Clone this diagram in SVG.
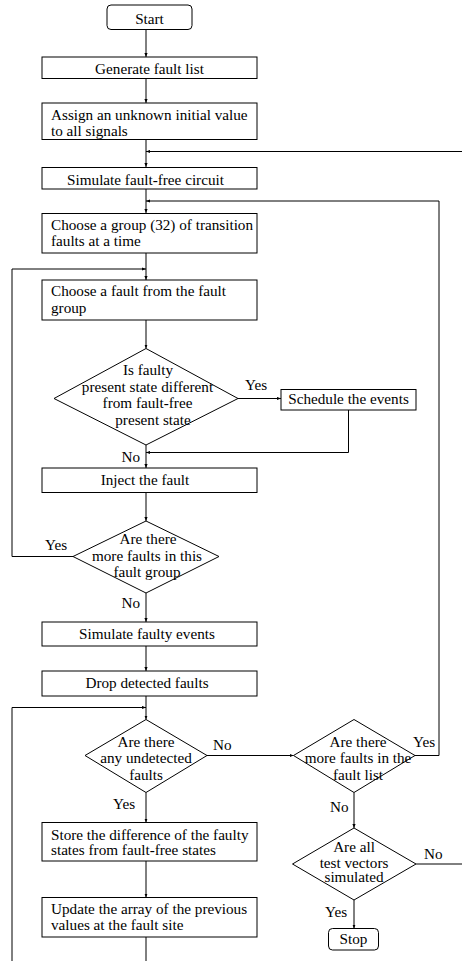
<svg xmlns="http://www.w3.org/2000/svg" width="462" height="961" viewBox="0 0 462 961">
  <style>
    .box { fill: #fff; stroke: #000; stroke-width: 1; }
    .edge { fill: none; stroke: #000; stroke-width: 1; }
    text { font-family: "Liberation Serif", "Times New Roman", serif; font-size: 15.2px; fill: #000; }
    .c { text-anchor: middle; }
  </style>
  <defs>
    <marker id="ah" markerWidth="4" markerHeight="4" refX="4" refY="2" orient="auto" markerUnits="userSpaceOnUse">
      <path d="M0,0.4 L4,2 L0,3.6 z" fill="#000"/>
    </marker>
  </defs>

  <!-- connectors -->
  <g id="connectors">
    <line class="edge" x1="146" y1="29" x2="146" y2="57" marker-end="url(#ah)"/>
    <line class="edge" x1="146" y1="78" x2="146" y2="103" marker-end="url(#ah)"/>
    <line class="edge" x1="146" y1="139" x2="146" y2="167" marker-end="url(#ah)"/>
    <line class="edge" x1="462" y1="151.5" x2="146" y2="151.5" marker-end="url(#ah)"/>
    <line class="edge" x1="146" y1="189" x2="146" y2="213" marker-end="url(#ah)"/>
    <polyline class="edge" points="415,755.5 439,755.5 439,201 146,201" marker-end="url(#ah)"/>
    <line class="edge" x1="146" y1="253" x2="146" y2="280" marker-end="url(#ah)"/>
    <polyline class="edge" points="73,556.5 12,556.5 12,269 146,269" marker-end="url(#ah)"/>
    <line class="edge" x1="146" y1="320" x2="146" y2="348.5" marker-end="url(#ah)"/>
    <line class="edge" x1="238" y1="398.5" x2="281" y2="398.5" marker-end="url(#ah)"/>
    <polyline class="edge" points="348.5,410 348.5,452.5 146,452.5" marker-end="url(#ah)"/>
    <line class="edge" x1="146" y1="445" x2="146" y2="468" marker-end="url(#ah)"/>
    <line class="edge" x1="146" y1="492" x2="146" y2="521" marker-end="url(#ah)"/>
    <line class="edge" x1="146" y1="593" x2="146" y2="622" marker-end="url(#ah)"/>
    <line class="edge" x1="146" y1="646" x2="146" y2="671" marker-end="url(#ah)"/>
    <line class="edge" x1="146" y1="696" x2="146" y2="719.5" marker-end="url(#ah)"/>
    <polyline class="edge" points="12,961 12,707.5 146,707.5" marker-end="url(#ah)"/>
    <line class="edge" x1="207" y1="755.5" x2="293.5" y2="755.5" marker-end="url(#ah)"/>
    <line class="edge" x1="146" y1="792.5" x2="146" y2="822.5" marker-end="url(#ah)"/>
    <line class="edge" x1="146" y1="861" x2="146" y2="897.5" marker-end="url(#ah)"/>
    <line class="edge" x1="146" y1="937" x2="146" y2="961"/>
    <line class="edge" x1="354" y1="792.5" x2="354" y2="828" marker-end="url(#ah)"/>
    <line class="edge" x1="416" y1="864" x2="462" y2="864"/>
    <line class="edge" x1="354" y1="900" x2="354" y2="928.5" marker-end="url(#ah)"/>
  </g>

  <!-- edge labels -->
  <g id="labels">
    <text x="245" y="390">Yes</text>
    <text x="121.5" y="461.5">No</text>
    <text x="45" y="550">Yes</text>
    <text x="121.5" y="608">No</text>
    <text x="213" y="749.5">No</text>
    <text x="413" y="746.5">Yes</text>
    <text x="113" y="809">Yes</text>
    <text x="330" y="811.5">No</text>
    <text x="424" y="858.5">No</text>
    <text x="325" y="916.5">Yes</text>
  </g>

  <g id="start">
    <rect class="box" x="107" y="5" width="85" height="24.5" rx="4"/>
    <text class="c" x="149.5" y="23.5">Start</text>
  </g>
  <g id="generate">
    <rect class="box" x="42" y="57" width="215" height="21.5"/>
    <text class="c" x="149.5" y="73.5">Generate fault list</text>
  </g>
  <g id="assign">
    <rect class="box" x="42" y="103" width="215" height="36.5"/>
    <text x="51" y="119.5">Assign an unknown initial value</text>
    <text x="51" y="136">to all signals</text>
  </g>
  <g id="simulate-good">
    <rect class="box" x="42" y="167.5" width="215" height="21.5"/>
    <text class="c" x="145.5" y="184.5">Simulate fault-free circuit</text>
  </g>
  <g id="choose-group">
    <rect class="box" x="42" y="213.5" width="215" height="39.5"/>
    <text x="51" y="229.5">Choose a group (32) of transition</text>
    <text x="51" y="246">faults at a time</text>
  </g>
  <g id="choose-fault">
    <rect class="box" x="42" y="280" width="215" height="40"/>
    <text x="51" y="296">Choose a fault from the fault</text>
    <text x="51" y="312.5">group</text>
  </g>
  <g id="decide-state">
    <polygon class="box" points="146,348.5 238,398.5 146,445 54,398.5"/>
    <text class="c" x="148" y="375">Is faulty</text>
    <text class="c" x="147.5" y="391.5">present state different</text>
    <text class="c" x="147.5" y="408">from fault-free</text>
    <text class="c" x="153" y="424.5">present state</text>
  </g>
  <g id="schedule">
    <rect class="box" x="281" y="389.5" width="135" height="20.5"/>
    <text class="c" x="348.5" y="403.5">Schedule the events</text>
  </g>
  <g id="inject">
    <rect class="box" x="42" y="468" width="215" height="24.5"/>
    <text class="c" x="145" y="485">Inject the fault</text>
  </g>
  <g id="decide-group">
    <polygon class="box" points="146,521 219,556.5 146,593 73,556.5"/>
    <text class="c" x="148" y="544">Are there</text>
    <text class="c" x="147" y="560.5">more faults in this</text>
    <text class="c" x="147" y="576.5">fault group</text>
  </g>
  <g id="simulate-faulty">
    <rect class="box" x="42" y="622" width="215" height="24"/>
    <text class="c" x="147" y="639">Simulate faulty events</text>
  </g>
  <g id="drop">
    <rect class="box" x="42" y="671" width="215" height="25"/>
    <text class="c" x="147" y="687.5">Drop detected faults</text>
  </g>
  <g id="decide-undetected">
    <polygon class="box" points="146,719.5 207,755.5 146,792.5 85,755.5"/>
    <text class="c" x="146" y="746.5">Are there</text>
    <text class="c" x="146" y="763">any undetected</text>
    <text class="c" x="146" y="779.5">faults</text>
  </g>
  <g id="decide-list">
    <polygon class="box" points="354,719.5 415,755.5 354,792.5 293.5,755.5"/>
    <text class="c" x="358" y="746.5">Are there</text>
    <text class="c" x="358" y="763">more faults in the</text>
    <text class="c" x="358" y="779.5">fault list</text>
  </g>
  <g id="store">
    <rect class="box" x="42" y="822.5" width="215" height="38.5"/>
    <text x="51" y="839.5">Store the difference of the faulty</text>
    <text x="51" y="855">states from fault-free states</text>
  </g>
  <g id="decide-vectors">
    <polygon class="box" points="354,828 416,864 354,900 292.5,864"/>
    <text class="c" x="354" y="851.5">Are all</text>
    <text class="c" x="354" y="867.5">test vectors</text>
    <text class="c" x="354" y="882">simulated</text>
  </g>
  <g id="update">
    <rect class="box" x="42" y="897.5" width="215" height="39.5"/>
    <text x="51" y="913.5">Update the array of the previous</text>
    <text x="51" y="930">values at the fault site</text>
  </g>
  <g id="stop">
    <rect class="box" x="328.5" y="928.5" width="50" height="21.5" rx="4"/>
    <text class="c" x="353.5" y="944">Stop</text>
  </g>
</svg>
